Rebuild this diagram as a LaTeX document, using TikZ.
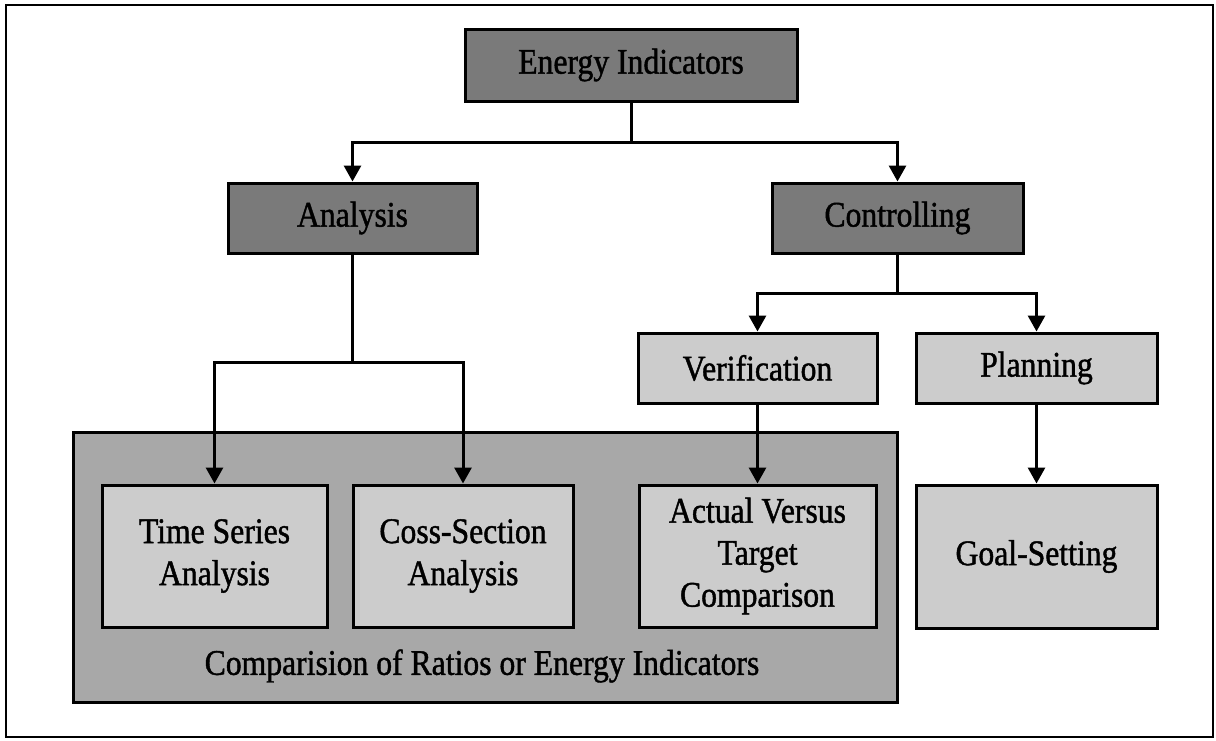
\documentclass[tikz,border=0pt]{standalone}
\usepackage{fontspec}
\setmainfont{Liberation Serif}[FakeStretch=0.88,FakeBold=1.2]
\usetikzlibrary{arrows.meta}
\definecolor{darkbox}{gray}{0.48}
\definecolor{midbox}{gray}{0.66}
\definecolor{lightbox}{gray}{0.80}
\begin{document}
\begin{tikzpicture}[x=1pt,y=-1pt,
  txt/.style={font=\rmfamily\fontsize{36}{42}\selectfont, align=center, inner sep=0pt},
  darkb/.style={txt, draw=black, line width=3pt, fill=darkbox},
  lightb/.style={txt, draw=black, line width=3pt, fill=lightbox},
  bigb/.style={draw=black, line width=3pt, fill=midbox},
  arr/.style={line width=3pt, -{Triangle[length=16pt,width=17pt]}},
  ln/.style={line width=3pt}]
\useasboundingbox (0,0) rectangle (1216,740);
\draw[line width=2pt] (6,5) rectangle (1213,737);
% big container
\node[bigb, minimum width=824pt, minimum height=270pt] (big) at (485,567) {};
\node[txt] (cmp) at (482,666) {Comparision of Ratios or Energy Indicators};
% top levels
\node[darkb, minimum width=332pt, minimum height=72pt] (E) at (631,65) {Energy Indicators};
\node[darkb, minimum width=249pt, minimum height=70pt] (A) at (352.5,218) {Analysis};
\node[darkb, minimum width=251pt, minimum height=70pt] (C) at (897.5,218) {Controlling};
\node[lightb, minimum width=239pt, minimum height=70pt] (V) at (757.5,368) {Verification};
\node[lightb, minimum width=241pt, minimum height=70pt] (P) at (1036.5,368) {Planning};
% bottom boxes
\node[lightb, minimum width=225pt, minimum height=142pt] (T) at (214.5,556) {Time Series\\Analysis};
\node[lightb, minimum width=220pt, minimum height=142pt] (S) at (463,556) {Coss-Section\\Analysis};
\node[lightb, minimum width=237pt, minimum height=142pt] (Act) at (757.5,556) {Actual Versus\\Target\\Comparison};
\node[lightb, minimum width=241pt, minimum height=143pt] (G) at (1036.5,556.5) {Goal-Setting};
% junctions
\coordinate (ej) at (631,142);
\coordinate (aj) at (352.5,362);
\coordinate (cj) at (897.5,293);
% connectors
\draw[ln] (E.south) -- (ej);
\draw[arr] (ej) -| (A.north);
\draw[arr] (ej) -| (C.north);
\draw[ln] (A.south) -- (aj);
\draw[arr] (aj) -| (T.north);
\draw[arr] (aj) -| (S.north);
\draw[ln] (C.south) -- (cj);
\draw[arr] (cj) -| (V.north);
\draw[arr] (cj) -| (P.north);
\draw[arr] (V.south) -- (Act.north);
\draw[arr] (P.south) -- (G.north);
\end{tikzpicture}
\end{document}
